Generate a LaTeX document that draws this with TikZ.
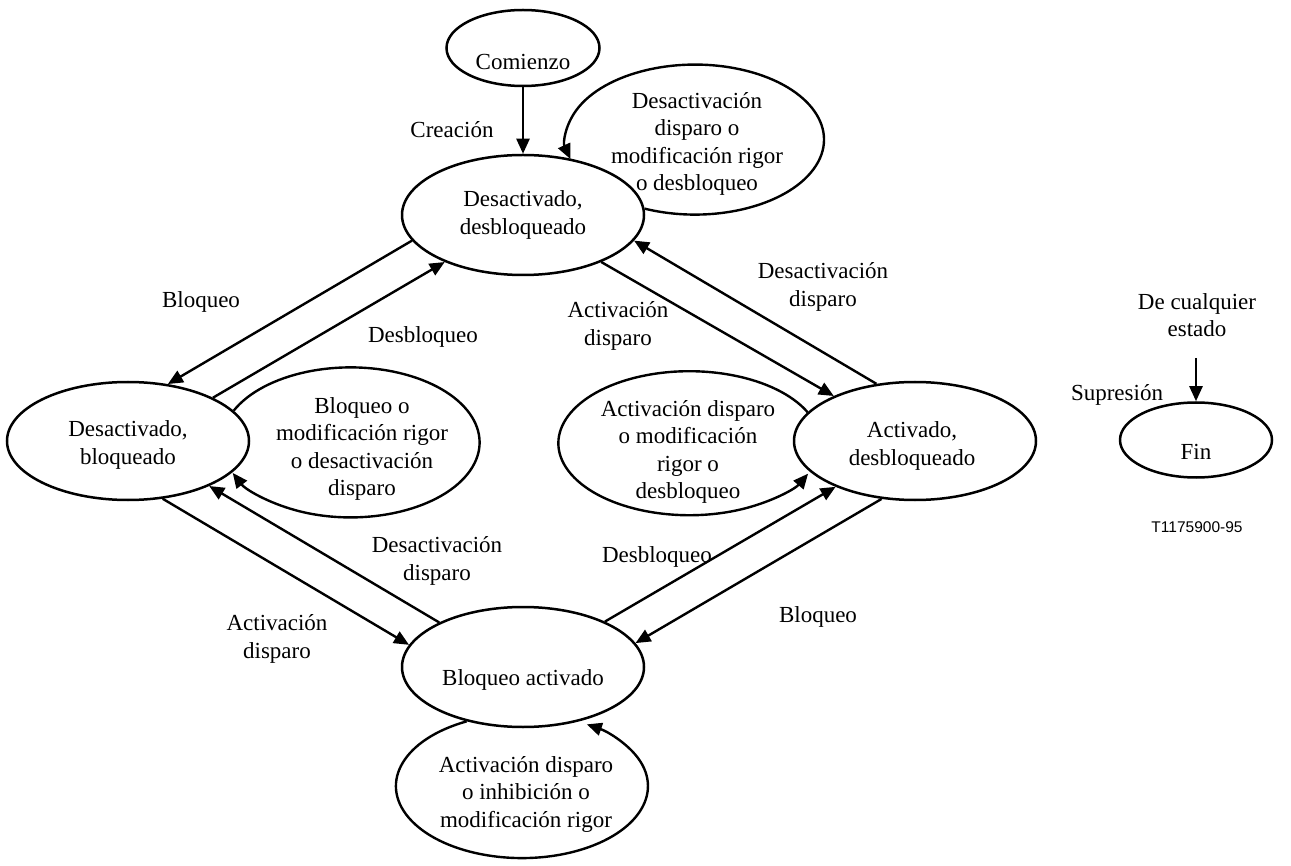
\documentclass[tikz,border=0pt]{standalone}
\usepackage{fontspec}
\setmainfont{Liberation Serif}
\setsansfont{Liberation Sans}
\usetikzlibrary{arrows.meta,shapes.geometric}
\begin{document}
\begin{tikzpicture}[x=1pt,y=-1pt,
  st/.style={ellipse, draw, line width=2.5pt, inner sep=0pt},
  arr/.style={line width=2.4pt, -{Triangle[length=15pt,width=13pt]}},
  txt/.style={align=center, inner sep=0pt, font=\fontsize{23}{27.5}\selectfont},
  tag/.style={inner sep=0pt, font=\sffamily\fontsize{15.5}{18}\selectfont}]
\useasboundingbox (0,0) rectangle (1291,866);

% states
\node[st, minimum width=153pt, minimum height=76pt] (C) at (523,48) {};
\node[txt] (Ct) at (523,62) {Comienzo};
\node[st, minimum width=242pt, minimum height=120pt] (DD) at (523,215) {};
\node[txt] (DDt) at (523,215) {Desactivado,\\desbloqueado};
\node[st, minimum width=242pt, minimum height=118pt] (DB) at (128,441) {};
\node[txt] (DBt) at (128,445) {Desactivado,\\bloqueado};
\node[st, minimum width=242pt, minimum height=118pt] (AD) at (915,441) {};
\node[txt] (ADt) at (912,446) {Activado,\\desbloqueado};
\node[st, minimum width=242pt, minimum height=120pt] (BA) at (523,667) {};
\node[txt] (BAt) at (523,680) {Bloqueo activado};
\node[st, minimum width=152pt, minimum height=75pt] (F) at (1196,440) {};
\node[txt] (Ft) at (1196,452) {Fin};

% transitions
\draw[arr] (C) -- (DD);
\draw[arr] (DD.193) -- (DB.55);
\draw[arr] (DB.27) -- (DD.211);
\draw[arr] (DD.329) -- (AD.151);
\draw[arr] (AD.124) -- (DD.347);
\draw[arr] (BA.29) -- (AD.210);
\draw[arr] (AD.240) -- (BA.12);
\draw[arr] (DB.301) -- (BA.169);
\draw[arr] (BA.152) -- (DB.331);

% self loops
\draw[arr] (DD.3) arc[start angle=247, end angle=555, x radius=129pt, y radius=75pt];
\draw[arr] (DB.16) arc[start angle=155, end angle=-156, x radius=129pt, y radius=75pt];
\draw[arr] (AD.165) arc[start angle=25.5, end angle=335, x radius=131pt, y radius=72pt];
\draw[arr] (BA.224) arc[start angle=116, end angle=419, x radius=126pt, y radius=72pt];

\node[txt] (L1) at (697,144) {Desactivación\\disparo o\\modificación rigor\\o desbloqueo};
\node[txt] (L2) at (362,449) {Bloqueo o\\modificación rigor\\o desactivación\\disparo};
\node[txt] (L3) at (688,452) {Activación disparo\\o modificación\\rigor o\\desbloqueo};
\node[txt] (L4) at (526,794) {Activación disparo\\o inhibición o\\modificación rigor};

% labels
\node[txt] (lCre) at (452,130) {Creación};
\node[txt] (lB1) at (201,302) {Bloqueo};
\node[txt] (lD1) at (423,337) {Desbloqueo};
\node[txt] (lA1) at (618,326) {Activación\\disparo};
\node[txt] (lDA1) at (823,287) {Desactivación\\disparo};
\node[txt] (lDA2) at (437,561) {Desactivación\\disparo};
\node[txt] (lA2) at (277,639) {Activación\\disparo};
\node[txt] (lD2) at (657,557) {Desbloqueo};
\node[txt] (lB2) at (818,617) {Bloqueo};

% end state
\node[txt] (lDe) at (1197,315) {De cualquier\\estado};
\coordinate (fromany) at (1196,358);
\draw[arr] (fromany) -- (F.north);
\node[txt] (lSup) at (1117,395) {Supresión};
\node[tag] (tag) at (1197,527) {T1175900-95};
\end{tikzpicture}
\end{document}
